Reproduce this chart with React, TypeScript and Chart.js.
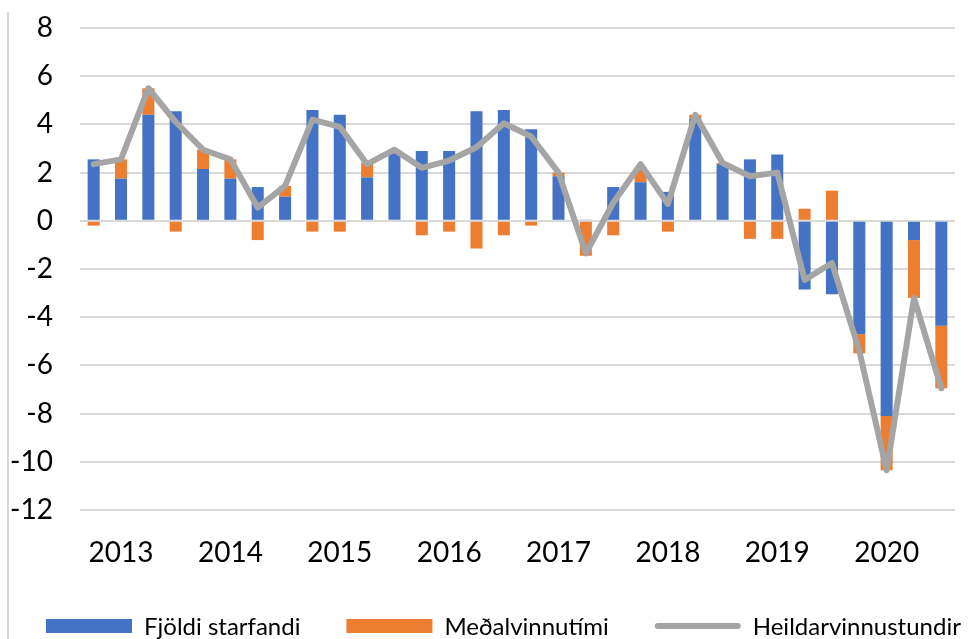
import React, { useEffect, useRef } from "react";
import { Chart, registerables } from "chart.js";

Chart.register(...registerables);

const quarters = [
  "2013Q1", "2013Q2", "2013Q3", "2013Q4",
  "2014Q1", "2014Q2", "2014Q3", "2014Q4",
  "2015Q1", "2015Q2", "2015Q3", "2015Q4",
  "2016Q1", "2016Q2", "2016Q3", "2016Q4",
  "2017Q1", "2017Q2", "2017Q3", "2017Q4",
  "2018Q1", "2018Q2", "2018Q3", "2018Q4",
  "2019Q1", "2019Q2", "2019Q3", "2019Q4",
  "2020Q1", "2020Q2", "2020Q3", "2020Q4",
];

const yearLabels = ["2013", "2014", "2015", "2016", "2017", "2018", "2019", "2020"];

const fjoldiStarfandi = [
  2.55, 1.75, 4.4, 4.55,
  2.15, 1.75, 1.4, 1.0,
  4.6, 4.4, 1.8, 2.8,
  2.9, 2.9, 4.55, 4.6,
  3.8, 1.85, 0.05, 1.4,
  1.6, 1.2, 4.25, 2.35,
  2.55, 2.75, -2.85, -3.05,
  -4.7, -8.1, -0.8, -4.35,
];

const medalvinnutimi = [
  -0.2, 0.8, 1.1, -0.45,
  0.8, 0.8, -0.8, 0.45,
  -0.45, -0.45, 0.6, 0.15,
  -0.6, -0.45, -1.15, -0.6,
  -0.2, 0.15, -1.45, -0.6,
  0.6, -0.45, 0.15, 0.05,
  -0.75, -0.75, 0.5, 1.25,
  -0.8, -2.25, -2.4, -2.6,
];

const heildarvinnustundir = [
  2.35, 2.55, 5.5, 4.1,
  2.95, 2.55, 0.55, 1.45,
  4.2, 3.9, 2.35, 2.95,
  2.2, 2.5, 3.05, 4.05,
  3.5, 2.0, -1.35, 0.75,
  2.35, 0.7, 4.4, 2.4,
  1.85, 2.0, -2.45, -1.75,
  -5.4, -10.35, -3.2, -6.95,
];

const seriesNames = ["Fjöldi starfandi", "Meðalvinnutími", "Heildarvinnustundir"];

const BLUE = "#4472c4";
const ORANGE = "#ed7d31";
const GREY = "#a5a5a5";
const FONT = "Lato";

// Legend drawn below the axis, laid out from measured text widths
const bottomLegend = {
  id: "bottomLegend",
  afterDraw(chart: any) {
    const ctx = chart.ctx as CanvasRenderingContext2D;
    const boxW = 86;
    const boxH = 14;
    const textGap = 12;
    const itemGap = 46;
    const startX = 46;
    const cy = chart.height - 13;
    ctx.save();
    ctx.font = `24px ${FONT}`;
    ctx.textBaseline = "middle";
    ctx.textAlign = "left";
    let x = startX;
    chart.data.datasets.forEach((ds: any) => {
      const isLine = ds.type === "line";
      if (isLine) {
        ctx.strokeStyle = GREY;
        ctx.lineWidth = 6;
        ctx.lineCap = "round";
        ctx.beginPath();
        ctx.moveTo(x + 3, cy);
        ctx.lineTo(x + boxW - 3, cy);
        ctx.stroke();
      } else {
        ctx.fillStyle = ds.backgroundColor;
        ctx.fillRect(x, cy - boxH / 2, boxW, boxH);
      }
      ctx.fillStyle = "#000";
      const tx = x + boxW + textGap;
      ctx.fillText(ds.label, tx, cy + 1);
      x = tx + ctx.measureText(ds.label).width + itemGap;
    });
    ctx.restore();
  },
};

export default function App() {
  const canvasRef = useRef<HTMLCanvasElement | null>(null);

  useEffect(() => {
    const canvas = canvasRef.current;
    if (!canvas) return;
    const chart = new Chart(canvas, {
      type: "bar",
      data: {
        labels: quarters,
        datasets: [
          {
            type: "bar",
            label: seriesNames[0],
            data: fjoldiStarfandi,
            backgroundColor: BLUE,
            stack: "bars",
            order: 2,
            barPercentage: 0.44,
            categoryPercentage: 1,
          },
          {
            type: "bar",
            label: seriesNames[1],
            data: medalvinnutimi,
            backgroundColor: ORANGE,
            stack: "bars",
            order: 2,
            barPercentage: 0.44,
            categoryPercentage: 1,
          },
          {
            type: "line",
            label: seriesNames[2],
            data: heildarvinnustundir,
            borderColor: GREY,
            backgroundColor: GREY,
            borderWidth: 6,
            pointRadius: 0,
            tension: 0,
            stack: "line",
            order: 1,
            borderJoinStyle: "round",
            borderCapStyle: "round",
          } as any,
        ],
      },
      options: {
        animation: false,
        responsive: false,
        maintainAspectRatio: false,
        layout: { padding: { top: 28, right: 18, left: 0, bottom: 64 } },
        plugins: {
          tooltip: { enabled: false },
          legend: { display: false },
        },
        scales: {
          x: {
            stacked: true,
            grid: { display: false, drawTicks: false },
            border: { display: false },
            afterFit: (scale: any) => {
              scale.height = 65;
            },
            ticks: {
              autoSkip: false,
              maxRotation: 0,
              minRotation: 0,
              padding: 26,
              color: "#000",
              font: { family: FONT, size: 28 },
              callback: (_v: any, index: number) =>
                index % 4 === 1 ? yearLabels[Math.floor(index / 4)] : "",
            },
          },
          y: {
            stacked: true,
            min: -12,
            max: 8,
            grid: { color: "#d9d9d9", lineWidth: 2, drawTicks: false },
            border: { display: false },
            afterFit: (scale: any) => {
              scale.width = 80;
              scale.paddingTop = 17;
              scale.paddingBottom = 17;
            },
            ticks: {
              stepSize: 2,
              padding: 27,
              color: "#000",
              font: { family: FONT, size: 28 },
            },
          },
        },
      },
      plugins: [bottomLegend],
    });
    return () => chart.destroy();
  }, []);

  return (
    <div
      style={{
        position: "fixed",
        left: 0,
        top: 0,
        width: 973,
        height: 639,
        overflow: "hidden",
        background: "#fff",
      }}
    >
      <div
        style={{
          position: "absolute",
          left: 7,
          top: 12,
          width: 2,
          bottom: 0,
          background: "#d9d9d9",
        }}
      />
      <canvas
        ref={canvasRef}
        width={973}
        height={639}
        style={{ position: "absolute", left: 0, top: 0, width: 973, height: 639 }}
      />
    </div>
  );
}
